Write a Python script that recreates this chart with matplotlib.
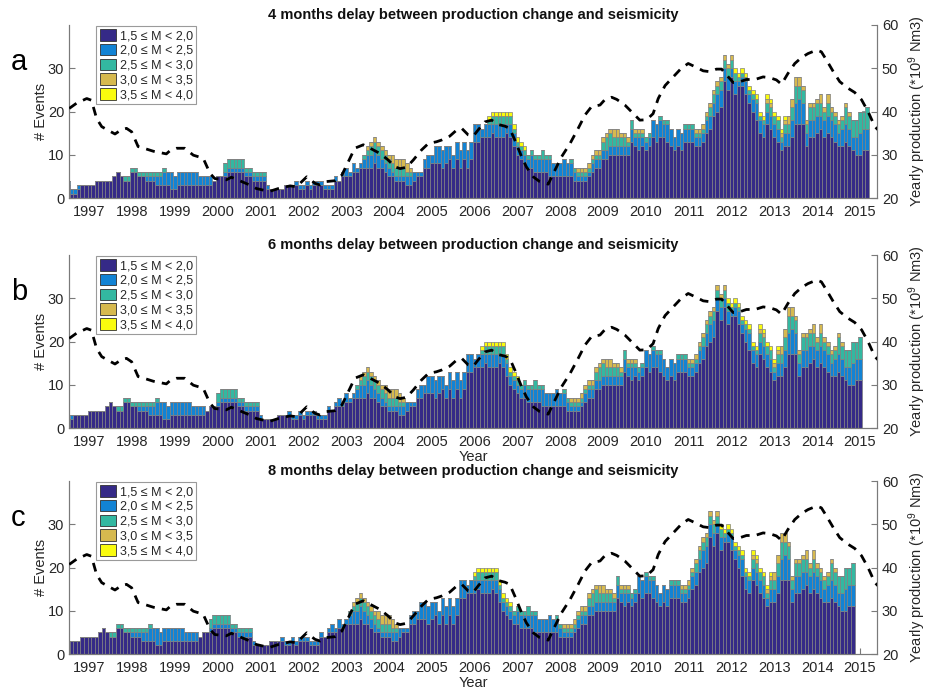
import numpy as np
import matplotlib
matplotlib.use("Agg")
import matplotlib.pyplot as plt
from matplotlib.patches import Patch

plt.rcParams["font.family"] = ["Liberation Sans", "DejaVu Sans"]
plt.rcParams["mathtext.default"] = "regular"

# ---------------------------------------------------------------------------
# Monthly event counts (moving window) per magnitude class.
# First entry corresponds to the month at decimal year `first_month`.
# ---------------------------------------------------------------------------
first_month = 1996.5 + 4 / 12

m15_20 = [
    3, 1, 1, 2, 3, 3, 3, 3, 4, 4,
    4, 4, 4, 5, 6, 5, 4, 4, 6, 6,
    5, 5, 4, 4, 4, 3, 3, 3, 3, 2,
    2, 3, 3, 3, 3, 3, 3, 3, 3, 3,
    3, 4, 5, 5, 5, 6, 6, 6, 6, 6,
    5, 5, 4, 4, 4, 4, 2, 2, 2, 2,
    2, 3, 3, 3, 3, 2, 2, 3, 2, 3,
    3, 3, 2, 2, 2, 4, 4, 5, 5, 5,
    6, 6, 7, 7, 7, 7, 8, 7, 7, 6,
    5, 5, 4, 4, 4, 3, 3, 4, 5, 5,
    7, 7, 8, 8, 8, 7, 8, 9, 7, 9,
    7, 9, 7, 9, 13, 13, 14, 14, 14, 15,
    14, 14, 14, 15, 14, 12, 10, 9, 8, 7,
    7, 6, 6, 6, 6, 5, 5, 5, 5, 5,
    5, 5, 4, 4, 4, 4, 5, 6, 7, 7,
    9, 9, 10, 10, 10, 10, 10, 10, 13, 12,
    11, 12, 11, 12, 14, 13, 14, 14, 13, 12,
    11, 12, 11, 13, 13, 13, 12, 12, 13, 15,
    16, 19, 20, 21, 27, 25, 28, 24, 26, 26,
    24, 22, 20, 18, 15, 14, 17, 16, 14, 13,
    11, 12, 12, 14, 17, 17, 17, 12, 14, 14,
    15, 16, 14, 15, 14, 13, 12, 12, 13, 12,
    11, 10, 10, 11, 11,
]

m20_25 = [
    1, 1, 1, 1, 0, 0, 0, 0, 0, 0,
    0, 0, 0, 0, 0, 0, 0, 0, 0, 0,
    0, 0, 1, 1, 1, 2, 2, 3, 3, 4,
    3, 3, 3, 3, 3, 3, 3, 2, 2, 2,
    2, 0, 0, 0, 1, 1, 1, 1, 1, 1,
    1, 1, 1, 1, 1, 1, 1, 0, 0, 0,
    0, 0, 0, 0, 1, 1, 1, 1, 1, 1,
    1, 1, 1, 1, 1, 1, 0, 1, 2, 1,
    2, 1, 1, 2, 3, 3, 3, 3, 2, 2,
    2, 1, 1, 1, 1, 2, 2, 2, 1, 1,
    2, 3, 2, 4, 4, 4, 4, 3, 3, 4,
    4, 4, 4, 4, 4, 4, 2, 3, 3, 2,
    3, 3, 3, 2, 3, 3, 2, 2, 2, 2,
    3, 3, 3, 3, 3, 4, 3, 3, 3, 4,
    3, 3, 2, 1, 1, 1, 1, 2, 2, 2,
    2, 2, 2, 2, 2, 2, 2, 2, 3, 2,
    3, 2, 2, 2, 4, 4, 4, 3, 4, 4,
    3, 4, 4, 3, 3, 3, 2, 2, 2, 3,
    3, 3, 4, 4, 3, 3, 2, 3, 1, 2,
    3, 2, 3, 4, 3, 3, 3, 3, 3, 3,
    2, 3, 3, 4, 5, 6, 5, 3, 4, 4,
    4, 3, 4, 4, 4, 4, 3, 4, 4, 4,
    3, 4, 5, 5, 5,
]

m25_30 = [
    0, 0, 0, 0, 0, 0, 0, 0, 0, 0,
    0, 0, 0, 0, 0, 0, 1, 1, 1, 1,
    1, 1, 1, 1, 1, 1, 1, 1, 0, 0,
    0, 0, 0, 0, 0, 0, 0, 0, 0, 0,
    0, 0, 0, 0, 2, 2, 2, 2, 2, 2,
    1, 1, 1, 1, 1, 1, 0, 0, 0, 0,
    0, 0, 0, 0, 0, 0, 0, 0, 0, 0,
    0, 0, 0, 0, 0, 0, 0, 0, 0, 0,
    0, 0, 0, 1, 1, 2, 2, 2, 2, 2,
    2, 2, 2, 2, 2, 1, 1, 0, 0, 0,
    0, 0, 0, 0, 0, 0, 0, 0, 0, 0,
    0, 0, 0, 0, 0, 0, 0, 0, 1, 2,
    2, 2, 2, 2, 2, 1, 1, 1, 1, 1,
    1, 1, 1, 2, 1, 1, 0, 0, 0, 0,
    0, 1, 1, 1, 1, 1, 1, 1, 1, 1,
    2, 3, 3, 2, 2, 2, 2, 1, 2, 1,
    1, 1, 1, 1, 0, 0, 1, 1, 1, 0,
    0, 0, 0, 1, 1, 1, 1, 1, 1, 1,
    2, 2, 2, 2, 2, 2, 2, 2, 1, 1,
    1, 1, 1, 1, 1, 1, 2, 2, 2, 2,
    1, 2, 2, 3, 4, 3, 3, 2, 3, 3,
    3, 3, 2, 3, 2, 2, 2, 2, 4, 3,
    4, 4, 5, 4, 5,
]

m30_35 = [
    0, 0, 0, 0, 0, 0, 0, 0, 0, 0,
    0, 0, 0, 0, 0, 0, 0, 0, 0, 0,
    0, 0, 0, 0, 0, 0, 0, 0, 0, 0,
    0, 0, 0, 0, 0, 0, 0, 0, 0, 0,
    0, 0, 0, 0, 0, 0, 0, 0, 0, 0,
    0, 0, 0, 0, 0, 0, 0, 0, 0, 0,
    0, 0, 0, 0, 0, 0, 0, 0, 0, 0,
    0, 0, 0, 0, 0, 0, 0, 0, 0, 0,
    0, 0, 0, 0, 1, 1, 1, 1, 1, 1,
    1, 2, 2, 2, 2, 2, 1, 0, 0, 0,
    0, 0, 0, 0, 0, 0, 0, 0, 0, 0,
    0, 0, 0, 0, 0, 0, 0, 0, 0, 0,
    0, 0, 0, 0, 0, 0, 0, 0, 0, 0,
    0, 0, 0, 0, 0, 0, 0, 0, 0, 0,
    0, 0, 0, 1, 1, 1, 1, 1, 1, 1,
    1, 1, 1, 2, 2, 1, 1, 1, 0, 1,
    1, 1, 0, 0, 0, 0, 0, 0, 0, 0,
    0, 0, 0, 0, 0, 0, 1, 1, 1, 1,
    1, 1, 1, 1, 1, 1, 1, 0, 0, 0,
    0, 0, 0, 0, 0, 0, 1, 1, 0, 0,
    1, 1, 2, 2, 2, 2, 1, 1, 1, 1,
    1, 2, 1, 2, 1, 1, 1, 1, 1, 1,
    0, 0, 0, 0, 0,
]

m35_40 = [
    0, 0, 0, 0, 0, 0, 0, 0, 0, 0,
    0, 0, 0, 0, 0, 0, 0, 0, 0, 0,
    0, 0, 0, 0, 0, 0, 0, 0, 0, 0,
    0, 0, 0, 0, 0, 0, 0, 0, 0, 0,
    0, 0, 0, 0, 0, 0, 0, 0, 0, 0,
    0, 0, 0, 0, 0, 0, 0, 0, 0, 0,
    0, 0, 0, 0, 0, 0, 0, 0, 0, 0,
    0, 0, 0, 0, 0, 0, 0, 0, 0, 0,
    0, 0, 0, 0, 0, 0, 0, 0, 0, 0,
    0, 0, 0, 0, 0, 0, 0, 0, 0, 0,
    0, 0, 0, 0, 0, 0, 0, 0, 0, 0,
    0, 0, 0, 0, 0, 0, 0, 0, 1, 1,
    1, 1, 1, 1, 1, 1, 1, 1, 1, 0,
    0, 0, 0, 0, 0, 0, 0, 0, 0, 0,
    0, 0, 0, 0, 0, 0, 0, 0, 0, 0,
    0, 0, 0, 0, 0, 0, 0, 0, 0, 0,
    0, 0, 0, 0, 0, 0, 0, 0, 0, 0,
    0, 0, 0, 0, 0, 0, 0, 0, 0, 0,
    0, 0, 0, 0, 0, 0, 0, 1, 1, 1,
    1, 1, 1, 1, 1, 1, 1, 1, 1, 1,
    1, 1, 0, 0, 0, 0, 0, 0, 0, 0,
    0, 0, 0, 0, 0, 0, 0, 0, 0, 0,
    0, 0, 0, 0, 0,
]

class_counts = [m15_20, m20_25, m25_30, m30_35, m35_40]
class_labels = [
    "1,5 \u2264 M < 2,0",
    "2,0 \u2264 M < 2,5",
    "2,5 \u2264 M < 3,0",
    "3,0 \u2264 M < 3,5",
    "3,5 \u2264 M < 4,0",
]
class_colors = ["#352a87", "#1283d4", "#33b8a1", "#d6b94f", "#f9fb0e"]

# Yearly (12-month rolling) gas production, 10^9 Nm3
prod_year = [
    1996.53, 1996.70, 1996.94, 1997.05, 1997.17, 1997.29, 1997.45, 1997.60,
    1997.75, 1997.87, 1997.99, 1998.14, 1998.34, 1998.50, 1998.65, 1998.80,
    1998.88, 1999.04, 1999.23, 1999.43, 1999.66, 1999.82, 1999.93, 2000.20,
    2000.32, 2000.51, 2000.75, 2000.90, 2001.20, 2001.42, 2001.69, 2001.84,
    2002.08, 2002.27, 2002.39, 2002.54, 2002.74, 2002.90, 2003.09, 2003.20,
    2003.40, 2003.56, 2003.79, 2003.98, 2004.14, 2004.26, 2004.41, 2004.57,
    2004.76, 2004.92, 2005.11, 2005.23, 2005.42, 2005.58, 2005.70, 2005.85,
    2005.97, 2006.08, 2006.24, 2006.40, 2006.55, 2006.71, 2006.82, 2006.94,
    2007.10, 2007.21, 2007.37, 2007.52, 2007.72, 2007.88, 2008.03, 2008.23,
    2008.42, 2008.58, 2008.73, 2008.93, 2009.04, 2009.20, 2009.32, 2009.51,
    2009.70, 2009.86, 2010.02, 2010.17, 2010.29, 2010.45, 2010.64, 2010.83,
    2010.99, 2011.18, 2011.34, 2011.50, 2011.65, 2011.77, 2011.89, 2012.04,
    2012.20, 2012.35, 2012.55, 2012.74, 2012.90, 2013.05, 2013.17, 2013.32,
    2013.48, 2013.64, 2013.79, 2013.99, 2014.10, 2014.22, 2014.38, 2014.53,
    2014.72, 2014.88, 2015.04, 2015.19, 2015.35, 2015.42,
]
prod_value = [
    40.7, 41.9, 43.0, 42.6, 38.4, 36.5, 35.6, 34.8,
    35.8, 36.1, 35.3, 31.9, 31.3, 30.8, 30.5, 30.2,
    30.9, 31.5, 31.5, 29.9, 29.2, 25.7, 24.5, 24.2,
    24.8, 24.0, 23.0, 22.2, 21.5, 22.2, 22.8, 22.6,
    24.9, 23.4, 23.0, 23.8, 24.0, 25.3, 29.2, 31.5,
    32.3, 31.5, 30.3, 28.8, 27.2, 26.8, 27.1, 28.8,
    31.1, 32.6, 33.0, 33.4, 34.3, 35.7, 36.1, 34.6,
    34.3, 35.7, 37.6, 38.0, 37.0, 36.6, 36.1, 33.4,
    29.5, 27.2, 24.9, 23.8, 23.2, 26.5, 29.5, 32.6,
    36.1, 39.2, 41.1, 41.5, 42.7, 43.3, 42.8, 41.5,
    39.6, 38.0, 38.1, 39.5, 43.0, 46.0, 48.0, 50.0,
    51.1, 50.2, 49.4, 49.2, 49.8, 49.8, 48.4, 46.7,
    46.9, 47.4, 47.4, 48.0, 47.8, 47.3, 46.3, 48.8,
    51.1, 52.5, 53.4, 54.2, 53.8, 51.9, 49.2, 46.9,
    45.4, 44.4, 42.7, 40.0, 36.5, 35.8,
]

delays_months = [4, 6, 8]
panel_letters = ["a", "b", "c"]
year_ticks = list(range(1997, 2016))
events_ticks = [0, 10, 20, 30]
prod_ticks = [20, 30, 40, 50, 60]

# ---------------------------------------------------------------------------
W, H = 930, 695
fig = plt.figure(figsize=(W / 100, H / 100), dpi=100)

ax_left, ax_right = 69, 877
panel_tops = [25, 255, 481]
panel_height = 173

text_col = "#262626"
axis_col = "#7a7a7a"

n_months = len(m15_20)
month_idx = np.arange(n_months)

for p in range(3):
    top = panel_tops[p]
    rect = [ax_left / W, 1 - (top + panel_height) / H,
            (ax_right - ax_left) / W, panel_height / H]
    ax = fig.add_axes(rect)
    x = first_month + month_idx / 12 - delays_months[p] / 12

    bottom = np.zeros(n_months)
    for counts, col in zip(class_counts, class_colors):
        vals = np.asarray(counts, dtype=float)
        ax.bar(x, vals, width=1 / 12, bottom=bottom, color=col,
               edgecolor="#808080", linewidth=0.5, zorder=2)
        bottom += vals

    ax.set_xlim(1996.526, 2015.40)
    ax.set_ylim(0, 40)
    ax.set_xticks(year_ticks)
    ax.set_xticklabels([str(y) for y in year_ticks])
    ax.set_yticks(events_ticks)
    ax.tick_params(direction="in", length=4, width=0.8, colors=axis_col,
                   labelcolor=text_col, labelsize=10.5)
    ax.tick_params(axis="x", pad=5)
    ax.set_ylabel("# Events", fontsize=10.5, color=text_col, labelpad=0)
    if p > 0:
        ax.set_xlabel("Year", fontsize=10.5, color=text_col, labelpad=1)
    for side in ["left", "bottom", "right"]:
        ax.spines[side].set_color(axis_col)
        ax.spines[side].set_linewidth(0.8)
    ax.spines["top"].set_visible(False)

    ax2 = ax.twinx()
    ax2.plot(prod_year, prod_value, color="black", linewidth=2.0,
             linestyle=(0, (3.2, 2.6)), zorder=5)
    ax2.set_ylim(20, 60)
    ax2.set_yticks(prod_ticks)
    ax2.tick_params(direction="in", length=4, width=0.8, colors=axis_col,
                    labelcolor=text_col, labelsize=10.5)
    ax2.set_ylabel("Yearly production (*10$^{9}$ Nm3)", fontsize=10.5,
                   color=text_col, labelpad=6)
    for side in ["left", "bottom", "right"]:
        ax2.spines[side].set_color(axis_col)
        ax2.spines[side].set_linewidth(0.8)
    ax2.spines["top"].set_visible(False)

    handles = [Patch(facecolor=c, edgecolor="#303030", linewidth=0.6)
               for c in class_colors]
    leg = ax2.legend(handles, class_labels, loc="upper left",
                     bbox_to_anchor=(0.034, 0.995), fontsize=9.0,
                     frameon=True, fancybox=False, edgecolor="#9a9a9a",
                     framealpha=1.0, borderpad=0.25, labelspacing=0.14,
                     handlelength=1.3, handleheight=1.05, handletextpad=0.3,
                     borderaxespad=0.0)
    leg.get_frame().set_linewidth(0.8)
    for t in leg.get_texts():
        t.set_color(text_col)

    ax.set_title(f"{delays_months[p]} months delay between production change and seismicity",
                 fontsize=10.5, fontweight="bold", color="#111111", pad=4)

    fig.text(11 / W, 1 - (top + 37) / H, panel_letters[p], fontsize=21,
             color="black", ha="left", va="center")

fig.savefig("out.png", dpi=100)
